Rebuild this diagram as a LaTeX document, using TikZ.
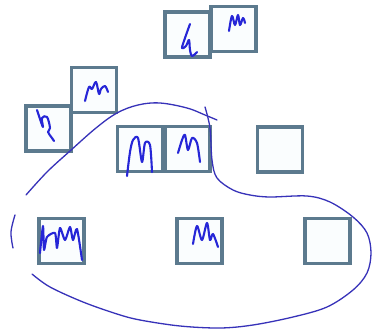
\documentclass[tikz,border=0pt]{standalone}
\begin{document}
\begin{tikzpicture}[x=1pt,y=-1pt,
  boxframe/.style={draw=boxc, fill=boxf, line width=3.2pt, minimum width=45pt, minimum height=45pt, inner sep=0pt, outer sep=0pt},
  pen/.style={draw=penc, line width=2.1pt, line cap=round, line join=round},
  loopline/.style={draw=loopc, line width=1.3pt, line cap=round}]
\definecolor{boxc}{RGB}{92,122,142}
\definecolor{boxf}{RGB}{250,253,254}
\definecolor{penc}{RGB}{38,38,215}
\definecolor{loopc}{RGB}{55,50,185}
\useasboundingbox (0,0) rectangle (372,332);
\fill[white] (0,0) rectangle (372,332);
% boxes
\node[boxframe] (b1) at (187.5,34.5) {};
\node[boxframe] (b2) at (233.5,29) {};
\node[boxframe] (b4) at (94,90) {};
\node[boxframe] (b3) at (48.5,128.5) {};
\node[boxframe] (b5) at (140,149) {};
\node[boxframe] (b6) at (187.5,149) {};
\node[boxframe] (b7) at (280,149.5) {};
\node[boxframe] (b8) at (61.5,241) {};
\node[boxframe] (b9) at (199.5,241) {};
\node[boxframe] (b10) at (327.5,241) {};
% handwriting scribbles
\draw[pen] plot[smooth, tension=0.6] coordinates {(190,24) (185,38) (182,48) (186,46) (189,40) (190,50) (192,56) (197,52)};
\draw[pen] plot[smooth, tension=0.6] coordinates {(229,31) (232,16) (235,25) (238,15) (240,25) (243,18) (245,23)};
\draw[pen] plot[smooth, tension=0.6] coordinates {(37,110) (41,122) (43,127) (42,118) (47,117) (50,128) (48,132) (52,138) (54,141)};
\draw[pen] plot[smooth, tension=0.6] coordinates {(85,101) (89,87) (92,89) (96,82) (99,94) (101,89) (105,86) (108,92)};
\draw[pen] plot[smooth, tension=0.5] coordinates {(127,176) (130,152) (133,140) (138,138) (142,162) (145,143) (150,145) (152,172)};
\draw[pen] plot[smooth, tension=0.5] coordinates {(178,153) (182,140) (185,135) (188,150) (192,138) (197,143) (200,162)};
\draw[pen] plot[smooth, tension=0.4] coordinates {(40,253) (43,226) (44,250) (47,237) (55,233) (57,248) (60,228) (65,240) (70,227) (73,240) (77,229) (82,260)};
\draw[pen] plot[smooth, tension=0.5] coordinates {(193,244) (197,226) (202,240) (207,223) (210,240) (213,234) (218,247)};
% enclosing loop
\coordinate (lA) at (26,195);
\coordinate (lB) at (217,120);
\coordinate (lC) at (205,107);
\coordinate (lD) at (32,274);
\draw[loopline] plot[smooth, tension=0.6] coordinates {(lA) (47,172) (70,151) (96,128) (117,113) (138,105) (160,103) (187,108) (205,115) (lB)};
\draw[loopline] plot[smooth, tension=0.55] coordinates {(lC) (210,128) (212,160) (217,178) (233,190) (250,195) (270,197) (307,196) (330,202) (353,217) (367,233) (371,253) (367,273) (353,290) (327,307) (293,317) (253,325) (220,328) (180,326) (140,320) (117,314) (83,302) (50,287) (lD)};
\draw[loopline] plot[smooth, tension=0.6] coordinates {(15,215) (11,232) (13,248)};
\end{tikzpicture}
\end{document}
